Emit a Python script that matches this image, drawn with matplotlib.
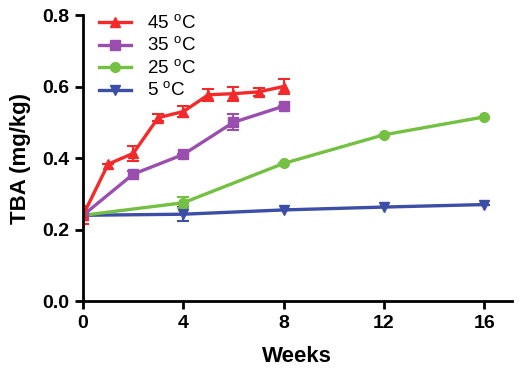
import matplotlib
matplotlib.use("Agg")
import matplotlib.pyplot as plt
from matplotlib.lines import Line2D

plt.rcParams['font.family'] = ['Liberation Sans', 'DejaVu Sans']
plt.rcParams['mathtext.fontset'] = 'custom'
plt.rcParams['mathtext.rm'] = 'Liberation Sans'

# data
w45 = [0, 1, 2, 3, 4, 5, 6, 7, 8]
tba45 = [0.240, 0.383, 0.413, 0.513, 0.530, 0.577, 0.580, 0.585, 0.600]
err45 = [0.025, 0.0, 0.020, 0.010, 0.015, 0.017, 0.020, 0.012, 0.020]

w35 = [0, 2, 4, 6, 8]
tba35 = [0.240, 0.355, 0.410, 0.500, 0.545]
err35 = [0.0, 0.010, 0.0, 0.022, 0.0]

w25 = [0, 4, 8, 12, 16]
tba25 = [0.240, 0.275, 0.385, 0.465, 0.515]
err25 = [0.0, 0.015, 0.0, 0.0, 0.0]

w5 = [0, 4, 8, 12, 16]
tba5 = [0.240, 0.243, 0.255, 0.263, 0.270]
err5 = [0.0, 0.020, 0.0, 0.0, 0.0]

fig = plt.figure(figsize=(5.19, 3.75), dpi=100)
ax = fig.add_axes([0.16, 0.197, 0.826, 0.763])

series = [
    (w45, tba45, err45, '#f42a2a', '^', r'45 $^\mathrm{o}$C'),
    (w35, tba35, err35, '#9a4fae', 's', r'35 $^\mathrm{o}$C'),
    (w25, tba25, err25, '#74c043', 'o', r'25 $^\mathrm{o}$C'),
    (w5, tba5, err5, '#3c4ea6', 'v', r'5 $^\mathrm{o}$C'),
]
handles = []
for x, y, e, c, m, lab in reversed(series):
    ax.errorbar(x, y, yerr=e, color=c, marker=m, markersize=7, lw=2.4,
                elinewidth=1.5, capsize=4, capthick=1.5)
for x, y, e, c, m, lab in series:
    handles.append(Line2D([], [], color=c, marker=m, markersize=7, lw=2.4, label=lab))

ax.legend(handles=handles, loc='upper left', bbox_to_anchor=(0.037, 1.003),
          frameon=False, fontsize=13.5, borderpad=0, borderaxespad=0,
          handlelength=1.7, labelspacing=0.2, handletextpad=0.85)

ax.set_xlim(0, 17.1)
ax.set_ylim(0, 0.8)
ax.set_xticks([0, 4, 8, 12, 16])
ax.set_yticks([0.0, 0.2, 0.4, 0.6, 0.8])
ax.set_yticklabels(['0.0', '0.2', '0.4', '0.6', '0.8'])
for s in ['top', 'right']:
    ax.spines[s].set_visible(False)
for s in ['left', 'bottom']:
    ax.spines[s].set_linewidth(2)
ax.tick_params(width=2, length=6, labelsize=14, pad=4)
for t in ax.get_xticklabels() + ax.get_yticklabels():
    t.set_fontweight('bold')
ax.set_xlabel('Weeks', fontsize=16, fontweight='bold', labelpad=10)
ax.set_ylabel('TBA (mg/kg)', fontsize=16, fontweight='bold', labelpad=8)

fig.savefig('out.png', dpi=100)
